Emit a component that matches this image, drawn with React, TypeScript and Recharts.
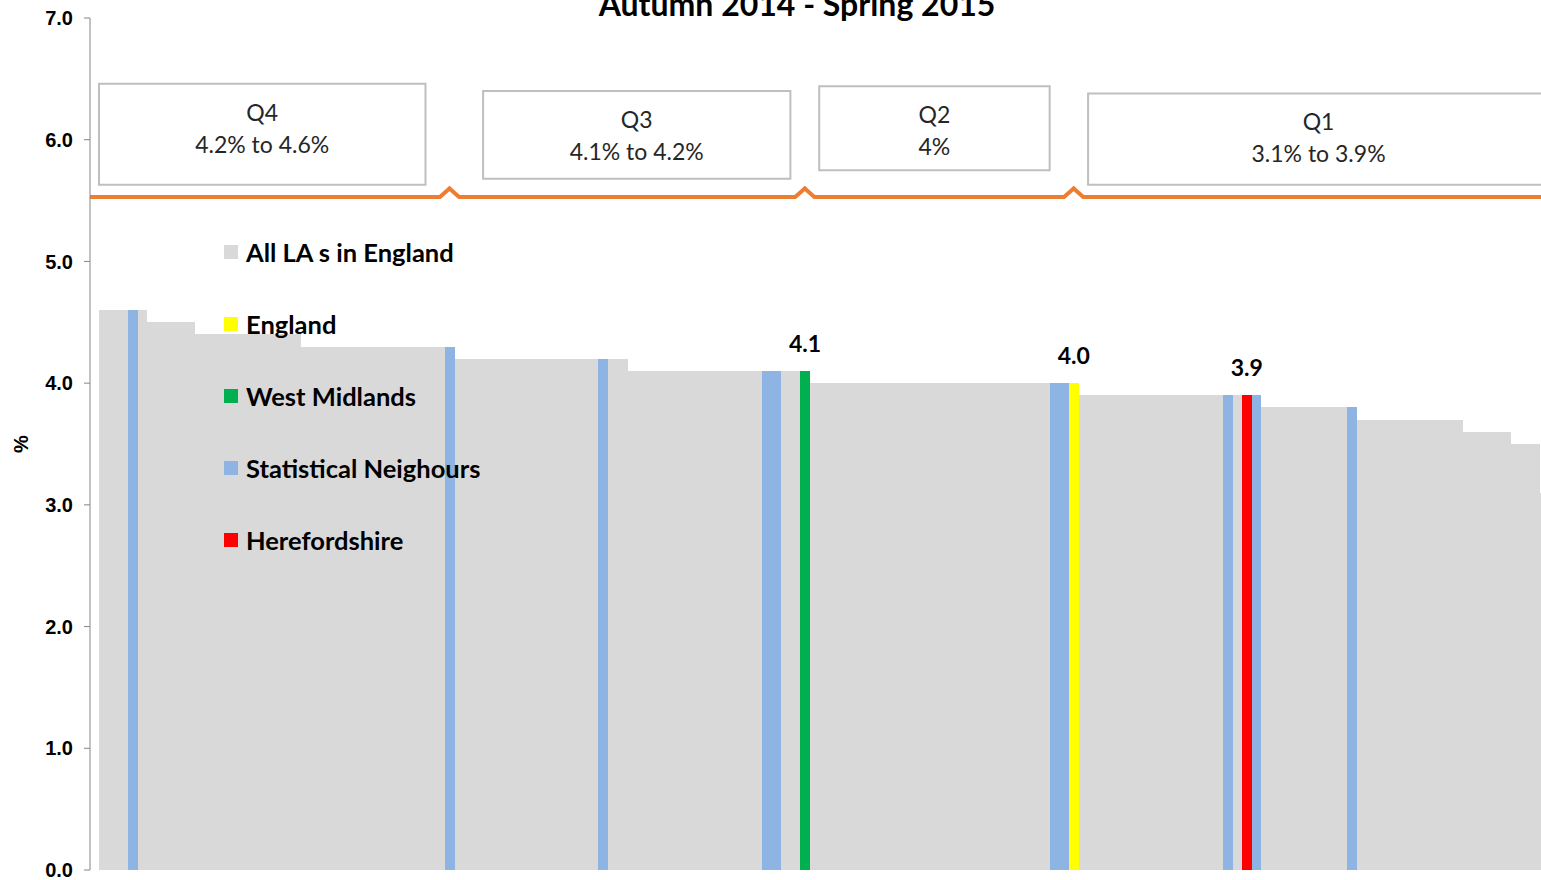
import React from 'react';
import { BarChart, Bar, XAxis, YAxis, ReferenceArea, ReferenceLine, Legend, LabelList } from 'recharts';

const TITLE = 'Autumn 2014 - Spring 2015';

// % per local authority, sorted high to low (one entry per bar)
const VALUES = [
    4.6, 4.6, 4.6, 4.6, 4.6,
    4.5, 4.5, 4.5, 4.5, 4.5,
    4.4, 4.4, 4.4, 4.4, 4.4, 4.4, 4.4, 4.4, 4.4, 4.4, 4.4,
    4.3, 4.3, 4.3, 4.3, 4.3, 4.3, 4.3, 4.3, 4.3, 4.3, 4.3, 4.3, 4.3, 4.3, 4.3, 4.3,
    4.2, 4.2, 4.2, 4.2, 4.2, 4.2, 4.2, 4.2, 4.2, 4.2, 4.2, 4.2, 4.2, 4.2, 4.2, 4.2, 4.2, 4.2,
    4.1, 4.1, 4.1, 4.1, 4.1, 4.1, 4.1, 4.1, 4.1, 4.1, 4.1, 4.1, 4.1, 4.1, 4.1, 4.1, 4.1, 4.1, 4.1,
    4.0, 4.0, 4.0, 4.0, 4.0, 4.0, 4.0, 4.0, 4.0, 4.0, 4.0, 4.0, 4.0, 4.0,
    4.0, 4.0, 4.0, 4.0, 4.0, 4.0, 4.0, 4.0, 4.0, 4.0, 4.0, 4.0, 4.0, 4.0,
    3.9, 3.9, 3.9, 3.9, 3.9, 3.9, 3.9, 3.9, 3.9, 3.9, 3.9, 3.9, 3.9, 3.9, 3.9, 3.9, 3.9, 3.9, 3.9,
    3.8, 3.8, 3.8, 3.8, 3.8, 3.8, 3.8, 3.8, 3.8, 3.8,
    3.7, 3.7, 3.7, 3.7, 3.7, 3.7, 3.7, 3.7, 3.7, 3.7, 3.7,
    3.6, 3.6, 3.6, 3.6, 3.6,
    3.5, 3.5, 3.5,
    3.1,
];

// rank positions (1 = highest) of the highlighted bars
const SN_RANKS = [4, 37, 53, 70, 71, 100, 101, 118, 121, 131];
const WM_RANK = 74;
const ENGLAND_RANK = 102;
const HEREFORD_RANK = 120;

const SERIES_KEYS = ['la', 'england', 'wm', 'sn', 'hereford'];
const SERIES_NAMES = ['All LA s in England', 'England', 'West Midlands', 'Statistical Neighours', 'Herefordshire'];
const SERIES_COLORS = ['#D9D9D9', '#FFFF00', '#00B050', '#8DB4E2', '#FF0000'];

const QUARTILES = ['Q4', 'Q3', 'Q2', 'Q1'];
const QUARTILE_RANGES = ['4.2% to 4.6%', '4.1% to 4.2%', '4%', '3.1% to 3.9%'];
// where each quartile box sits: [first rank, last rank] and [bottom, top] in %
const BOX_RANKS = [[1, 34], [41, 72], [76, 99], [104, 151]];
const BOX_LEVELS = [[5.63, 6.46], [5.68, 6.40], [5.75, 6.44], [5.63, 6.38]];
const BRACE_LEVEL = 5.53;
const BRACE_PEAK = 5.6;
const BRACE_BUMPS = [37, 74, 102];

const CALIBRI = "Lato, 'Open Sans', sans-serif";
const ARIAL = "'Liberation Sans', Arial, sans-serif";

const seriesFor = (rank: number) => {
    if (rank === ENGLAND_RANK) return 'england';
    if (rank === WM_RANK) return 'wm';
    if (rank === HEREFORD_RANK) return 'hereford';
    if (SN_RANKS.includes(rank)) return 'sn';
    return 'la';
};

const data = VALUES.map((v, i) => ({ rank: i + 1, [seriesFor(i + 1)]: v }));

const renderValue = (props: any) => {
    const { x, y, width, value } = props;
    if (value == null) return null;
    return (
        <text x={Number(x) + Number(width) / 2} y={Number(y) - 19} textAnchor="middle"
            fontFamily={CALIBRI} fontWeight={700} fontSize={23} fill="#000">
            {Number(value).toFixed(1)}
        </text>
    );
};

// keep the legend in series order (recharts sorts it by name otherwise)
const renderLegend = (props: any) => {
    const items = [...(props.payload || [])].sort(
        (a: any, b: any) => SERIES_NAMES.indexOf(a.value) - SERIES_NAMES.indexOf(b.value)
    );
    return (
        <div>
            {items.map((entry: any) => (
                <div key={entry.value} style={{ display: 'flex', alignItems: 'center', height: 72 }}>
                    <span style={{ width: 14, height: 14, background: entry.color, marginRight: 8 }} />
                    <span style={{ fontFamily: CALIBRI, fontWeight: 700, fontSize: 25.5, color: '#000', whiteSpace: 'nowrap' }}>
                        {entry.value}
                    </span>
                </div>
            ))}
        </div>
    );
};

const boxLabel = (i: number) => (props: any) => {
    const vb = props.viewBox || props;
    const cx = vb.x + vb.width / 2;
    return (
        <g fontFamily={CALIBRI} fontSize={23} fill="#262626">
            <text x={cx} y={vb.y + 37} textAnchor="middle">{QUARTILES[i]}</text>
            <text x={cx} y={vb.y + 69} textAnchor="middle">{QUARTILE_RANGES[i]}</text>
        </g>
    );
};

const axisTitle = (props: any) => {
    const vb = props.viewBox;
    const cy = vb.y + vb.height / 2;
    return (
        <text x={21} y={cy} transform={`rotate(-90, 21, ${cy})`} textAnchor="middle" dominantBaseline="central"
            fontFamily={ARIAL} fontWeight={700} fontSize={20} fill="#000">%</text>
    );
};

const App: React.FC = () => (
    <div style={{ position: 'absolute', left: 0, top: 0, width: 1541, height: 880, overflow: 'hidden', background: '#fff' }}>
        <BarChart width={1559} height={880} data={data} barCategoryGap={0} barGap={0}
            margin={{ top: 18, right: 10, bottom: 10, left: 0 }}>
            <XAxis dataKey="rank" hide padding={{ left: 9, right: 0 }} />
            <YAxis domain={[0, 7]} ticks={[0, 1, 2, 3, 4, 5, 6, 7]} interval={0} width={90} tickSize={6} tickMargin={11}
                tickFormatter={(v: number) => v.toFixed(1)}
                axisLine={{ stroke: '#868686' }} tickLine={{ stroke: '#868686' }}
                tick={{ fontFamily: ARIAL, fontWeight: 700, fontSize: 20, fill: '#000' }}
                label={axisTitle} />
            <Legend layout="vertical" align="center" verticalAlign="middle" content={renderLegend}
                wrapperStyle={{ left: 224, top: 216, right: 'auto', bottom: 'auto', width: 'auto', height: 'auto' }} />
            {SERIES_KEYS.map((key, i) => (
                <Bar key={key} dataKey={key} name={SERIES_NAMES[i]} stackId="a" fill={SERIES_COLORS[i]}
                    isAnimationActive={false} shapeRendering="crispEdges">
                    {key === 'england' || key === 'wm' || key === 'hereford'
                        ? <LabelList dataKey={key} content={renderValue} />
                        : null}
                </Bar>
            ))}
            {QUARTILES.map((q, i) => (
                <ReferenceArea key={q} x1={BOX_RANKS[i][0]} x2={BOX_RANKS[i][1]}
                    y1={BOX_LEVELS[i][0]} y2={BOX_LEVELS[i][1]}
                    fill="#fff" fillOpacity={1} stroke="#BFBFBF" strokeWidth={2}
                    label={boxLabel(i)} />
            ))}
            <ReferenceLine y={BRACE_LEVEL} stroke="#ED7D31" strokeWidth={4} />
            {BRACE_BUMPS.map((r) => (
                <ReferenceLine key={`gap-${r}`} segment={[{ x: r - 1, y: BRACE_LEVEL }, { x: r + 1, y: BRACE_LEVEL }]}
                    stroke="#fff" strokeWidth={6} />
            ))}
            {BRACE_BUMPS.map((r) => (
                <ReferenceLine key={`up-${r}`} segment={[{ x: r - 1, y: BRACE_LEVEL }, { x: r, y: BRACE_PEAK }]}
                    stroke="#ED7D31" strokeWidth={4} strokeLinecap="round" />
            ))}
            {BRACE_BUMPS.map((r) => (
                <ReferenceLine key={`down-${r}`} segment={[{ x: r, y: BRACE_PEAK }, { x: r + 1, y: BRACE_LEVEL }]}
                    stroke="#ED7D31" strokeWidth={4} strokeLinecap="round" />
            ))}
        </BarChart>
        <svg width={1541} height={40} style={{ position: 'absolute', left: 0, top: 0 }}>
            <text x={797} y={16} textAnchor="middle" fontFamily={CALIBRI} fontWeight={700} fontSize={32} fill="#000">
                {TITLE}
            </text>
        </svg>
    </div>
);

export default App;
